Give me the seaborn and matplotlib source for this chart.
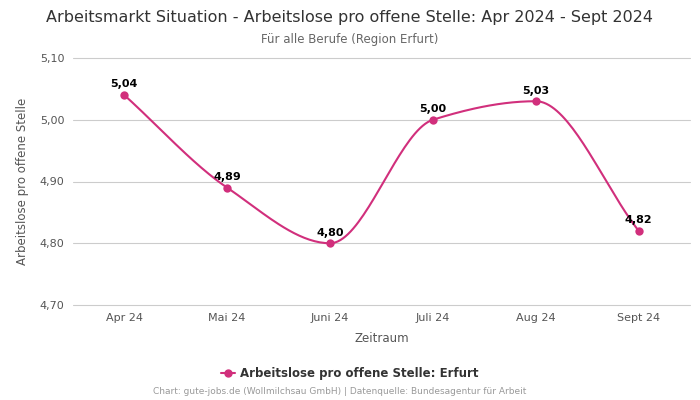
import numpy as np
import pandas as pd
import matplotlib
matplotlib.use("Agg")
import matplotlib.pyplot as plt
from matplotlib.lines import Line2D
import seaborn as sns

categories = ["Apr 24", "Mai 24", "Juni 24", "Juli 24", "Aug 24", "Sept 24"]
values = [5.04, 4.89, 4.80, 5.00, 5.03, 4.82]
value_labels = ["5,04", "4,89", "4,80", "5,00", "5,03", "4,82"]
y_ticks = [4.70, 4.80, 4.90, 5.00, 5.10]
y_tick_labels = ["4,70", "4,80", "4,90", "5,00", "5,10"]

COLOR = "#d12f7c"


def pchip(x, y, n=40):
    x = np.asarray(x, float)
    y = np.asarray(y, float)
    h = np.diff(x)
    d = np.diff(y) / h
    m = np.zeros_like(y)
    for k in range(1, len(y) - 1):
        if d[k - 1] * d[k] <= 0:
            m[k] = 0.0
        else:
            w1 = 2 * h[k] + h[k - 1]
            w2 = h[k] + 2 * h[k - 1]
            m[k] = (w1 + w2) / (w1 / d[k - 1] + w2 / d[k])
    m[0] = d[0]
    m[-1] = d[-1]
    xs, ys = [], []
    for k in range(len(x) - 1):
        t = np.linspace(0, 1, n, endpoint=(k == len(x) - 2))
        h00 = 2 * t**3 - 3 * t**2 + 1
        h10 = t**3 - 2 * t**2 + t
        h01 = -2 * t**3 + 3 * t**2
        h11 = t**3 - t**2
        xs.append(x[k] + t * h[k])
        ys.append(h00 * y[k] + h10 * h[k] * m[k] + h01 * y[k + 1] + h11 * h[k] * m[k + 1])
    return np.concatenate(xs), np.concatenate(ys)


sns.set_theme(style="white")
plt.rcParams["font.family"] = ["DejaVu Sans"]

fig = plt.figure(figsize=(7, 4), dpi=100)
ax = fig.add_axes([0.104, 0.2375, 0.882, 0.6175])

pos = np.arange(len(categories))
sx, sy = pchip(pos, values)
smooth = pd.DataFrame({"x": sx, "y": sy})
points = pd.DataFrame({"x": pos, "y": values})

sns.lineplot(data=smooth, x="x", y="y", ax=ax, color=COLOR, linewidth=1.5, sort=False, zorder=3)
sns.scatterplot(data=points, x="x", y="y", ax=ax, color=COLOR, s=36, edgecolor=COLOR, linewidth=0, zorder=4)

for xi, yi, lab in zip(pos, values, value_labels):
    ax.annotate(lab, (xi, yi), xytext=(0, 4), textcoords="offset points",
                ha="center", va="bottom", fontsize=8, fontweight="bold", color="#000000")

ax.set_xlim(-0.5, len(categories) - 0.5)
ax.set_ylim(4.70, 5.10)
ax.set_xticks(pos)
ax.set_xticklabels(categories)
ax.set_yticks(y_ticks)
ax.set_yticklabels(y_tick_labels)
ax.tick_params(axis="both", labelsize=8, colors="#555555", length=0, pad=6)
ax.grid(axis="x", visible=False)
ax.grid(axis="y", visible=False)
for yt in y_ticks:
    ax.axhline(yt, color="#cccccc", linewidth=0.8, zorder=1, clip_on=False)
for s in ax.spines.values():
    s.set_visible(False)
ax.set_xlabel("Zeitraum", fontsize=8.5, color="#555555", labelpad=6)
ax.set_ylabel("Arbeitslose pro offene Stelle", fontsize=8.5, color="#555555", labelpad=8)

fig.text(0.5, 0.957, "Arbeitsmarkt Situation - Arbeitslose pro offene Stelle: Apr 2024 - Sept 2024",
         ha="center", va="center", fontsize=11.5, color="#333333")
fig.text(0.5, 0.9, "Für alle Berufe (Region Erfurt)", ha="center", va="center",
         fontsize=8.5, color="#666666")

handle = Line2D([0], [0], color=COLOR, marker="o", markersize=5, linewidth=1.5)
fig.legend([handle], ["Arbeitslose pro offene Stelle: Erfurt"], loc="center",
           bbox_to_anchor=(0.5, 0.066), frameon=False, handlelength=1.2, handletextpad=0.4,
           prop={"size": 8.5, "weight": "bold"}, labelcolor="#333333")

fig.text(0.485, 0.02, "Chart: gute-jobs.de (Wollmilchsau GmbH) | Datenquelle: Bundesagentur für Arbeit",
         ha="center", va="center", fontsize=6.45, color="#999999")

fig.savefig("out.png", dpi=100)
